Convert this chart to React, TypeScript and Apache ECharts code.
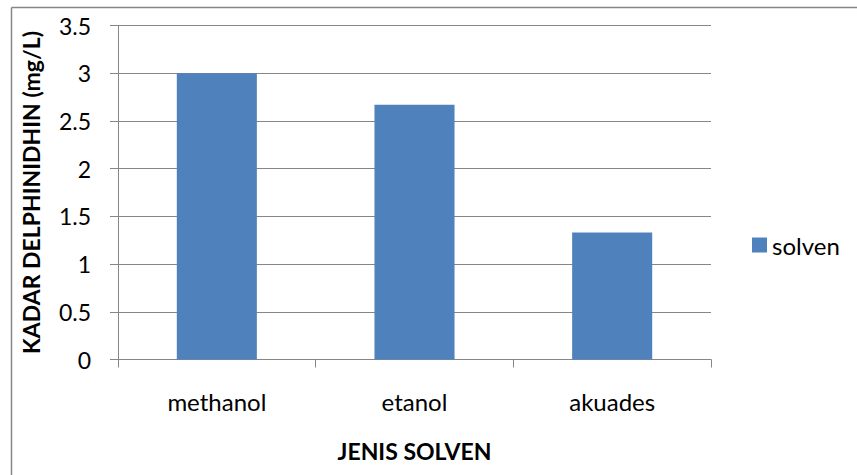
import React, { useEffect, useRef } from "react";
import * as echarts from "echarts";

const categories = ["methanol", "etanol", "akuades"];
const solvenValues = [3.0, 2.67, 1.33];
const seriesName = "solven";
const xAxisTitle = "JENIS SOLVEN";
const yAxisTitle = "KADAR DELPHINIDHIN (mg/L)";

export default function App() {
  const ref = useRef<HTMLDivElement>(null);
  useEffect(() => {
    if (!ref.current) return;
    const chart = echarts.init(ref.current, null, { renderer: "svg" });
    const font = "Lato, 'Open Sans', sans-serif";
    const gray = "#868686";
    chart.setOption({
      animation: false,
      backgroundColor: "#ffffff",
      textStyle: { fontFamily: font },
      grid: { left: 118, right: 146, top: 25.5, bottom: 115.5, containLabel: false },
      legend: {
        data: [seriesName],
        left: 747,
        top: 228,
        itemWidth: 15,
        itemHeight: 15,
        itemGap: 6,
        icon: "rect",
        textStyle: { fontFamily: font, fontSize: 24, color: "#000" },
      },
      xAxis: {
        type: "category",
        data: categories,
        name: xAxisTitle,
        nameLocation: "middle",
        nameGap: 80,
        nameTextStyle: { fontFamily: font, fontSize: 23, fontWeight: "bold", color: "#000" },
        axisLine: { lineStyle: { color: gray, width: 1 } },
        axisTick: { show: true, length: 8, alignWithLabel: false, lineStyle: { color: gray } },
        axisLabel: { margin: 30, fontSize: 24, color: "#000", fontFamily: font },
        splitLine: { show: false },
      },
      yAxis: {
        type: "value",
        min: 0,
        max: 3.5,
        interval: 0.5,
        name: yAxisTitle,
        nameLocation: "middle",
        nameGap: 76,
        nameRotate: 90,
        nameTextStyle: { fontFamily: font, fontSize: 23, fontWeight: "bold", color: "#000" },
        axisLine: { show: true, lineStyle: { color: gray, width: 1 } },
        axisTick: { show: true, length: 8, lineStyle: { color: gray } },
        axisLabel: { margin: 27, fontSize: 23, color: "#000", fontFamily: font },
        splitLine: { show: true, lineStyle: { color: gray, width: 1 } },
      },
      series: [
        {
          name: seriesName,
          type: "bar",
          data: solvenValues,
          barCategoryGap: "59.5%",
          itemStyle: { color: "#4F81BD" },
        },
      ],
      graphic: [
        {
          type: "line",
          shape: { x1: 11.5, y1: 7.5, x2: 857, y2: 7.5 },
          style: { stroke: gray, lineWidth: 1.5 },
        },
        {
          type: "line",
          shape: { x1: 11.5, y1: 7.5, x2: 11.5, y2: 475 },
          style: { stroke: gray, lineWidth: 1.5 },
        },
      ],
    });
    return () => chart.dispose();
  }, []);
  return (
    <div
      ref={ref}
      style={{ position: "fixed", left: 0, top: 0, width: 857, height: 475 }}
    />
  );
}
